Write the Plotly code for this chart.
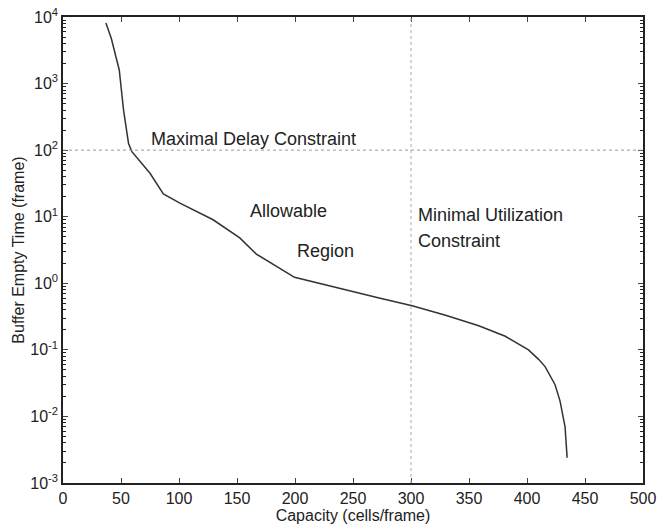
import plotly.graph_objects as go

capacity = [37, 41.6, 48.5, 52.2, 56.5, 59.4, 75, 86.5, 100.8, 129.4, 152.4, 166.7, 199.6,
            243.9, 272.5, 301, 329.8, 358.4, 381.3, 401.3, 410, 415.6, 424.2, 428.5, 431.3,
            432.8, 434.6]
empty_time = [8100, 4800, 1600, 400, 126, 95, 45, 22, 16, 9, 4.8, 2.75, 1.23,
              0.79, 0.6, 0.46, 0.33, 0.23, 0.16, 0.1, 0.072, 0.056, 0.03, 0.017, 0.01,
              0.007, 0.0024]

x_ticks = [0, 50, 100, 150, 200, 250, 300, 350, 400, 450, 500]
y_exponents = [-3, -2, -1, 0, 1, 2, 3, 4]
y_ticks = [10.0 ** e for e in y_exponents]
y_ticktext = ["10<sup>%d</sup>" % e for e in y_exponents]
y_minor = [m * 10.0 ** e for e in y_exponents[:-1] for m in range(2, 10)]

delay_limit = 100
util_limit = 300

font = "Liberation Sans, Arial, sans-serif"
ink = "#222222"

fig = go.Figure()
fig.add_trace(go.Scatter(x=capacity, y=empty_time, mode="lines",
                         line=dict(color="#333333", width=1.5), showlegend=False))
# transparent copy of the curve carrying the minor-tick axis
fig.add_trace(go.Scatter(x=capacity, y=empty_time, yaxis="y2", mode="lines",
                         line=dict(color="rgba(0,0,0,0)", width=0), showlegend=False,
                         hoverinfo="skip"))

fig.add_shape(type="line", xref="x", yref="y", x0=0, x1=500, y0=delay_limit, y1=delay_limit,
              line=dict(color="#999999", width=1, dash="dot"))
fig.add_shape(type="line", xref="x", yref="paper", x0=util_limit, x1=util_limit, y0=0, y1=1,
              line=dict(color="#aaaaaa", width=1, dash="dot"))

# annotation y values are log10 positions on the log axis
annots = [
    ("Maximal Delay Constraint", 74.2, 2.17),
    ("Allowable", 159.2, 1.09),
    ("Region", 199.6, 0.49),
    ("Minimal Utilization", 304.3, 1.03),
    ("Constraint", 304.3, 0.63),
]
for t, x, y in annots:
    fig.add_annotation(x=x, y=y, text=t, showarrow=False, xanchor="left", yanchor="middle",
                       font=dict(family=font, size=18, color=ink))

fig.update_layout(
    width=664, height=525, plot_bgcolor="white", paper_bgcolor="white",
    margin=dict(l=63, r=21, t=17, b=42),
    xaxis=dict(range=[0, 500], tickvals=x_ticks, ticks="inside", ticklen=5,
               showline=True, linecolor=ink, linewidth=1.5, mirror="ticks",
               showgrid=False, zeroline=False, automargin=False,
               tickfont=dict(family=font, size=16, color=ink),
               title=dict(text="Capacity (cells/frame)", standoff=0,
                          font=dict(family=font, size=16, color=ink))),
    yaxis=dict(type="log", range=[-3, 4], tickvals=y_ticks, ticktext=y_ticktext,
               ticks="inside", ticklen=5,
               showline=True, linecolor=ink, linewidth=1.5, mirror="ticks",
               showgrid=False, zeroline=False, automargin=False,
               tickfont=dict(family=font, size=16, color=ink),
               title=dict(text="Buffer Empty Time (frame)", standoff=2,
                          font=dict(family=font, size=16, color=ink))),
    yaxis2=dict(type="log", range=[-3, 4], overlaying="y", side="left", visible=True,
                tickmode="array", tickvals=y_minor, showticklabels=False,
                ticks="inside", ticklen=3, tickwidth=1, tickcolor=ink,
                showline=True, linecolor=ink, linewidth=1.5, mirror="ticks",
                showgrid=False, zeroline=False, automargin=False),
)

fig.write_html("out.html")
